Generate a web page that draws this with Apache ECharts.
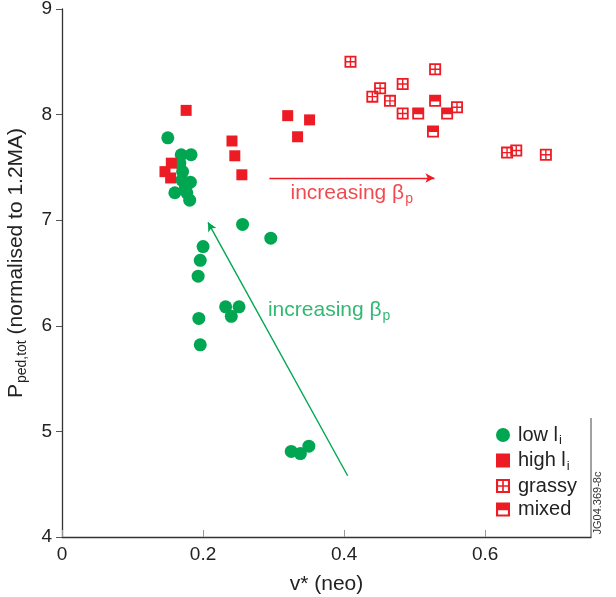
<!DOCTYPE html>
<html><head><meta charset="utf-8">
<script src="https://cdn.jsdelivr.net/npm/echarts@6/dist/echarts.min.js"></script>
<style>html,body{margin:0;padding:0;background:#fff}#c{width:616px;height:597px}</style>
</head><body><div id="c"></div>
<script>
// ---- data (x = nu* (neo), y = P_ped,tot) ----
const lowLi = [
  [0.150,7.78],[0.169,7.62],[0.183,7.62],[0.167,7.54],[0.171,7.46],[0.170,7.38],
  [0.182,7.36],[0.175,7.31],[0.160,7.26],[0.177,7.26],[0.181,7.19],
  [0.256,6.96],[0.296,6.83],[0.200,6.75],[0.196,6.62],[0.193,6.47],
  [0.232,6.18],[0.251,6.18],[0.240,6.09],[0.194,6.07],[0.196,5.82],
  [0.325,4.81],[0.338,4.79],[0.350,4.86]
];
const highLi = [
  [0.176,8.04],[0.241,7.75],[0.245,7.61],[0.255,7.43],
  [0.155,7.54],[0.146,7.46],[0.154,7.40],
  [0.320,7.99],[0.351,7.95],[0.334,7.79]
];
const grassy = [
  [0.409,8.50],[0.529,8.43],[0.451,8.25],[0.440,8.17],[0.483,8.29],
  [0.465,8.13],[0.483,8.01],[0.560,8.07],
  [0.631,7.64],[0.644,7.66],[0.686,7.62]
];
const mixed = [
  [0.505,8.01],[0.529,8.13],[0.546,8.01],[0.526,7.84]
];
const xTicks = [0, 0.2, 0.4, 0.6];
const yTicks = [4, 5, 6, 7, 8, 9];
// annotations
const arrowRed = [[0.294,7.40],[0.528,7.40]];
const arrowGreen = [[0.405,4.58],[0.207,6.98]];
const labelRed = [0.324,7.26];
const labelGreen = [0.292,6.15];

const GREEN = '#00a651', RED = '#ed1c24';
const FONT = 'Liberation Sans, Arial, sans-serif';
const grassyPath = 'path://M0,0H12V12H0Z M1.8,1.8V5.3H5.3V1.8Z M6.7,1.8V5.3H10.2V1.8Z M1.8,6.7V10.2H5.3V6.7Z M6.7,6.7V10.2H10.2V6.7Z';
const mixedPath = 'path://M0,0H12V12H0Z M1.8,6.6V10.2H10.2V6.6Z';

const richSub = {
  t:{fontSize:20, fontFamily:FONT, color:'#222'},
  s:{fontSize:13, fontFamily:FONT, color:'#222', padding:[11,0,0,1]}
};
const legendNames = {'low li':'{t|low l}{s|i}','high li':'{t|high l}{s|i}','grassy':'{t|grassy}','mixed':'{t|mixed}'};

function subLabel(color){
  return {t:{fontSize:21,fontFamily:FONT,color:color}, s:{fontSize:14,fontFamily:FONT,color:color,padding:[12,0,0,1]}};
}

const chart = echarts.init(document.getElementById('c'));
chart.setOption({
  animation:false,
  grid:{left:62, right:25, top:9, bottom:60, containLabel:false, outerBoundsMode:'none'},
  xAxis:{
    type:'value', min:0, max:0.75, interval:0.2,
    name:'v* (neo)', nameLocation:'middle', nameGap:37,
    nameTextStyle:{fontSize:21, fontFamily:FONT, color:'#222'},
    axisLine:{show:true, lineStyle:{color:'#333', width:1.3}},
    axisTick:{show:true, inside:true, length:7, lineStyle:{color:'#999'}},
    axisLabel:{fontSize:19, fontFamily:FONT, color:'#222', margin:8,
      formatter:v => xTicks.some(t=>Math.abs(t-v)<1e-6) ? String(+v.toFixed(1)) : ''},
    splitLine:{show:false}
  },
  yAxis:{
    type:'value', min:4, max:9, interval:1,
    name:'{t|P}{s|ped,tot}{t| (normalised to 1.2MA)}', nameLocation:'middle', nameGap:33, nameRotate:90,
    nameTextStyle:{fontSize:21, fontFamily:FONT, color:'#222', padding:[0,0,0,20],
      rich:{t:{fontSize:21,fontFamily:FONT,color:'#222'}, s:{fontSize:14,fontFamily:FONT,color:'#222',padding:[12,0,0,1]}}},
    axisLine:{show:true, lineStyle:{color:'#333', width:1.3}},
    axisTick:{show:true, inside:false, length:6, lineStyle:{color:'#555'}},
    axisLabel:{fontSize:19, fontFamily:FONT, color:'#222', margin:10,
      formatter:v => yTicks.includes(v) ? String(v) : ''},
    splitLine:{show:false}
  },
  legend:{
    orient:'vertical', left:491, top:420, itemGap:3.5, itemWidth:14, itemHeight:14,
    data:['low li','high li','grassy','mixed'],
    formatter:n => legendNames[n],
    textStyle:{fontSize:20, fontFamily:FONT, color:'#222', rich:richSub, padding:[0,0,0,3]}
  },
  graphic:[
    {type:'line', shape:{x1:591,y1:418,x2:591,y2:537}, style:{stroke:'#444', lineWidth:1}},
    {type:'text', x:598, y:503, rotation:Math.PI/2,
      style:{text:'JG04.369-8c', fontSize:11, fontFamily:FONT, fill:'#333', align:'center', verticalAlign:'middle'}}
  ],
  series:[
    {name:'low li', type:'scatter', data:lowLi, symbol:'circle', symbolSize:13,
      itemStyle:{color:GREEN, opacity:1}, z:3},
    {name:'high li', type:'scatter', data:highLi, symbol:'rect', symbolSize:11,
      itemStyle:{color:RED, opacity:1}, z:4},
    {name:'grassy', type:'scatter', data:grassy, symbol:grassyPath, symbolSize:12,
      itemStyle:{color:RED, opacity:1}, z:4},
    {name:'mixed', type:'scatter', data:mixed, symbol:mixedPath, symbolSize:12,
      itemStyle:{color:RED, opacity:1}, z:4},
    {type:'scatter', data:[], silent:true,
      markLine:{silent:true, animation:false, symbol:['none','arrow'], symbolSize:[7,9],
        label:{show:false},
        data:[
          [{coord:arrowRed[0], lineStyle:{color:RED, width:1.4, type:'solid'}},{coord:arrowRed[1]}],
          [{coord:arrowGreen[0], lineStyle:{color:GREEN, width:1.4, type:'solid'}},{coord:arrowGreen[1]}]
        ]}},
    {type:'scatter', silent:true, symbolSize:0, data:[labelRed],
      label:{show:true, position:'right', distance:0, formatter:'{t|increasing β}{s|p}', rich:subLabel(RED)}},
    {type:'scatter', silent:true, symbolSize:0, data:[labelGreen],
      label:{show:true, position:'right', distance:0, formatter:'{t|increasing β}{s|p}', rich:subLabel(GREEN)}}
  ]
});
</script></body></html>
